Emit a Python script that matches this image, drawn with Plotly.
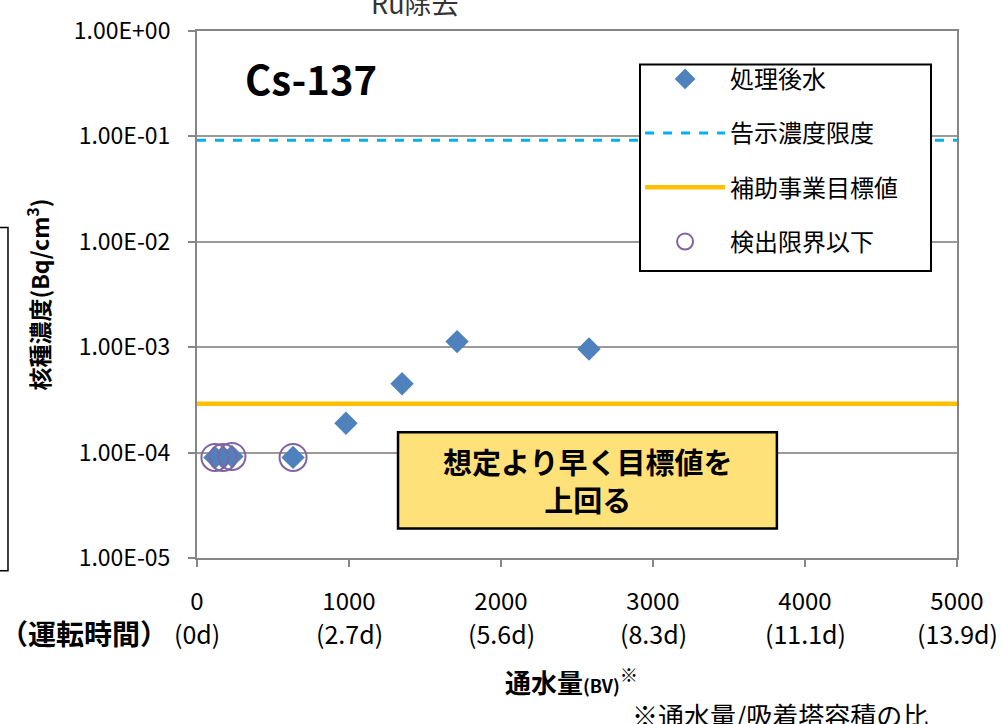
import plotly.graph_objects as go

# ---- data ----
treated_bv = [118, 171, 230, 632, 980, 1349, 1711, 2579]
treated_conc = [9.0e-5, 9.0e-5, 9.2e-5, 9.0e-5, 1.9e-4, 4.5e-4, 1.13e-3, 9.6e-4]
below_dl_bv = [118, 171, 230, 632]
below_dl_conc = [9.0e-5, 9.0e-5, 9.2e-5, 9.0e-5]
limit_bv = [0, 5000]
notify_limit = [0.092, 0.092]
target_value = [2.9e-4, 2.9e-4]

x_tickvals = [0, 1000, 2000, 3000, 4000, 5000]
x_ticktext = ["0", "1000", "2000", "3000", "4000", "5000"]
day_labels = ["(0d)", "(2.7d)", "(5.6d)", "(8.3d)", "(11.1d)", "(13.9d)"]
y_tickvals = [1e0, 1e-1, 1e-2, 1e-3, 1e-4, 1e-5]
y_ticktext = ["1.00E+00", "1.00E-01", "1.00E-02", "1.00E-03", "1.00E-04", "1.00E-05"]

JP = "Noto Sans CJK JP"

fig = go.Figure()
fig.add_trace(go.Scatter(x=treated_bv, y=treated_conc, mode="markers", name="処理後水",
                         legendgroup="a",
                         marker=dict(symbol="diamond", size=18, color="#4F81BD")))
fig.add_trace(go.Scatter(x=limit_bv, y=notify_limit, mode="lines", name="告示濃度限度",
                         legendgroup="b",
                         line=dict(color="#00B0F0", width=3, dash="dash")))
fig.add_trace(go.Scatter(x=limit_bv, y=target_value, mode="lines",
                         name="補助事業目標値",
                         legendgroup="c",
                         line=dict(color="#FFC000", width=4.5)))
fig.add_trace(go.Scatter(x=below_dl_bv, y=below_dl_conc, mode="markers", name="検出限界以下",
                         legendgroup="d",
                         marker=dict(symbol="circle-open", size=27, color="#8064A2",
                                     line=dict(width=2, color="#8064A2"))))

fig.update_layout(
    width=1002, height=724,
    margin=dict(l=197, r=45, t=22, b=166),
    paper_bgcolor="white", plot_bgcolor="white",
    font=dict(family=JP, size=18, color="black"),
    showlegend=True,
    legend=dict(x=0.583, y=0.951, xanchor="left", yanchor="top",
                bgcolor="rgba(0,0,0,0)", borderwidth=0,
                font=dict(family=JP, size=24, color="black"),
                tracegroupgap=20, itemwidth=80),
)

# legend frame (white panel with black border behind the legend)
fig.add_shape(type="rect", xref="paper", yref="paper", x0=0.5829, x1=0.9658, y0=0.5448, y1=0.9366,
              fillcolor="white", line=dict(color="black", width=2), layer="above")

fig.update_xaxes(range=[0, 5000], tickvals=x_tickvals, ticktext=x_ticktext,
                 ticks="outside", ticklen=7, tickcolor="#868686", tickwidth=1.5,
                 ticklabelstandoff=14,
                 showgrid=False, showline=True, linecolor="#868686", linewidth=2,
                 mirror=True, zeroline=False,
                 tickfont=dict(family=JP, size=24, color="black"))
fig.update_yaxes(type="log", range=[-5, 0], tickvals=y_tickvals, ticktext=y_ticktext,
                 ticks="outside", ticklen=7, tickcolor="#868686", tickwidth=1.5,
                 ticklabelstandoff=13,
                 showgrid=True, gridcolor="#9A9A9A", gridwidth=1.5,
                 showline=True, linecolor="#868686", linewidth=2, mirror=True,
                 zeroline=False,
                 tickfont=dict(family=JP, size=23, color="black"),
                 title=dict(text="<b>核種濃度(Bq/cm<sup>3</sup>)</b>",
                            font=dict(family=JP, size=23, color="black"), standoff=18))

# day labels under ticks
for xv, lab in zip(x_tickvals, day_labels):
    fig.add_annotation(x=xv, y=-0.142, xref="x", yref="paper", text=lab,
                       showarrow=False, font=dict(family=JP, size=25, color="black"),
                       xanchor="center", yanchor="middle")

fig.add_annotation(x=-0.036, y=-0.142, xref="paper", yref="paper", text="<b>（運転時間）</b>",
                   showarrow=False, font=dict(family=JP, size=28, color="black"),
                   xanchor="right", yanchor="middle")
fig.add_annotation(x=0.493, y=-0.233, xref="paper", yref="paper",
                   text="<b>通水量<span style='font-size:18px'>(BV)</span></b><sup>※</sup>",
                   showarrow=False, font=dict(family=JP, size=26, color="black"),
                   xanchor="center", yanchor="middle")
fig.add_annotation(x=0.5697, y=-0.2966, xref="paper", yref="paper", text="※通水量/吸着塔容積の比",
                   showarrow=False, font=dict(family=JP, size=26, color="black"),
                   xanchor="left", yanchor="middle")
fig.add_annotation(x=0.061, y=0.910, xref="paper", yref="paper", text="<b>Cs-137</b>",
                   showarrow=False, font=dict(family=JP, size=40, color="black"),
                   xanchor="left", yanchor="middle")
fig.add_annotation(x=0.287, y=1.054, xref="paper", yref="paper", text="Ru除去",
                   showarrow=False, font=dict(family=JP, size=27, color="#333333"),
                   xanchor="center", yanchor="middle")

# callout box
fig.add_shape(type="rect", xref="paper", yref="paper", x0=0.2645, x1=0.763, y0=0.056, y1=0.2388,
              fillcolor="#FFE17A", line=dict(color="black", width=2.5), layer="above")
fig.add_annotation(x=0.5137, y=0.1474, xref="paper", yref="paper",
                   text="<b>想定より早く目標値を<br>上回る</b>",
                   showarrow=False, font=dict(family=JP, size=29, color="black"),
                   xanchor="center", yanchor="middle", align="center")

# partial frame at left edge
fig.add_shape(type="rect", xref="paper", yref="paper", x0=-0.28, x1=-0.2487, y0=-0.024, y1=0.627,
              line=dict(color="black", width=1.5), fillcolor="rgba(0,0,0,0)")

fig.write_html("out.html", config={"displayModeBar": False},
               post_script="document.body.style.margin='0px';")
